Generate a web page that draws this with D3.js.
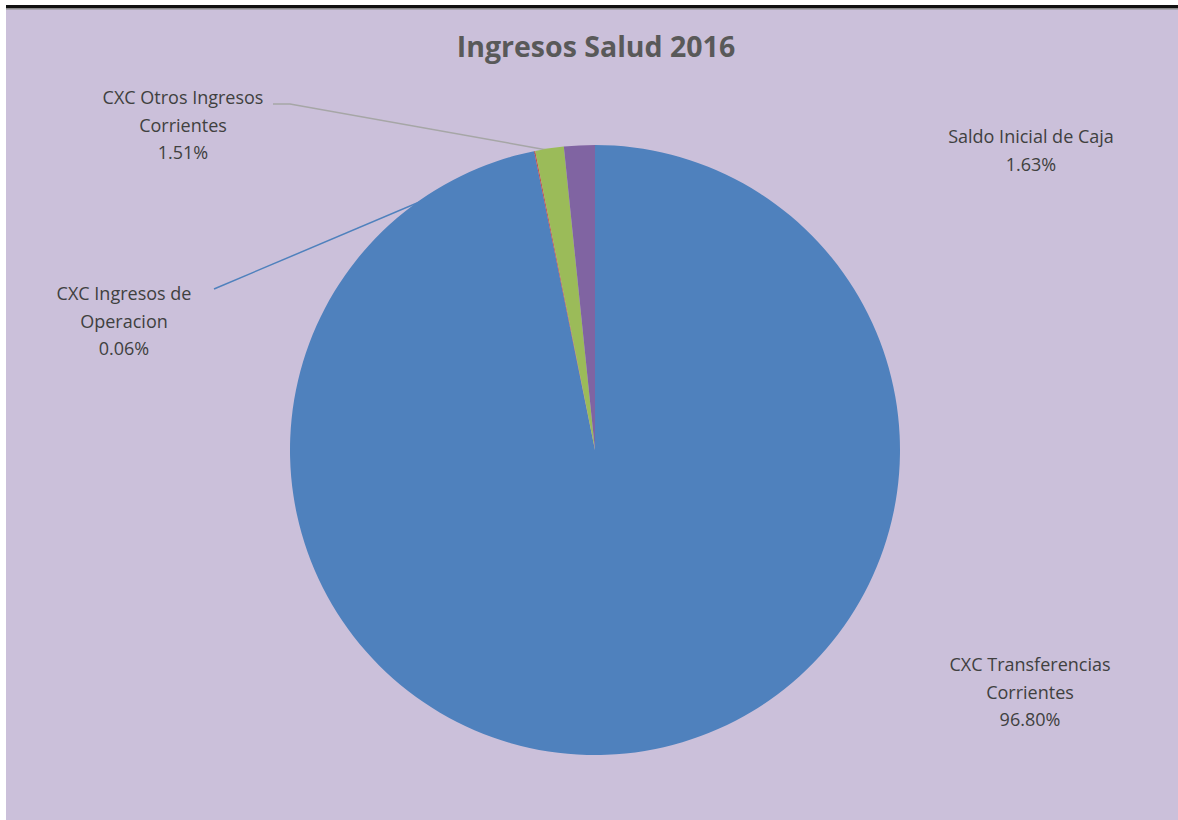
<!DOCTYPE html>
<html><head><meta charset="utf-8">
<script src="https://cdn.jsdelivr.net/npm/d3@7"></script>
<style>body{margin:0;background:#fff}svg{display:block}</style>
</head><body>
<svg id="c" width="1178" height="820"></svg>
<script>
const title = "Ingresos Salud 2016";
const categories = ["CXC Transferencias Corrientes","CXC Ingresos de Operacion","CXC Otros Ingresos Corrientes","Saldo Inicial de Caja"];
const values = [96.80, 0.06, 1.51, 1.63];
const labelLines = [["CXC Transferencias","Corrientes"],["CXC Ingresos de","Operacion"],["CXC Otros Ingresos","Corrientes"],["Saldo Inicial de Caja"]];
const colors = ["#4F81BD","#C0504D","#9BBB59","#8064A2"];

// layout (not data)
const cx = 595, cy = 450, R = 305;
const labelPos = [
  {x:1030, y:671, leader:null},
  {x:124, y:300, leader:[214,289], leaderColor:"#4F81BD"},
  {x:183, y:104, leader:[273,104], hook:[290,104], leaderColor:"#A6A6A6"},
  {x:1031, y:143, leader:null}
];

const svg = d3.select("#c");
svg.append("rect").attr("x",6).attr("y",9).attr("width",1172).attr("height",811).attr("fill","#CBC0DA");
svg.append("rect").attr("x",6).attr("y",5).attr("width",1172).attr("height",3).attr("fill","#111");
svg.append("rect").attr("x",6).attr("y",8).attr("width",1172).attr("height",1.5).attr("fill","#888");

svg.append("text").attr("x",596).attr("y",57).attr("text-anchor","middle")
  .attr("font-family","'Open Sans', sans-serif").attr("font-weight","bold").attr("font-size",28.5)
  .attr("fill","#595959").text(title);

const data = categories.map((c,i)=>({name:c, value:values[i], i}));
const pie = d3.pie().sort(null).value(d=>d.value);
const arcs = pie(data);
const arc = d3.arc().innerRadius(0).outerRadius(R);

// leader lines drawn beneath the pie
const leaderG = svg.append("g");
arcs.forEach(a=>{
  const lp = labelPos[a.data.i];
  if(!lp.leader) return;
  const mid = (a.startAngle+a.endAngle)/2;
  const ex = cx + (R-2)*Math.sin(mid), ey = cy - (R-2)*Math.cos(mid);
  const pts = [lp.leader];
  if(lp.hook) pts.push(lp.hook);
  pts.push([ex,ey]);
  leaderG.append("path").attr("d",d3.line()(pts)).attr("fill","none")
    .attr("stroke",lp.leaderColor).attr("stroke-width",1.5);
});

const g = svg.append("g").attr("transform",`translate(${cx},${cy})`);
g.selectAll("path").data(arcs).join("path")
  .attr("d",arc).attr("fill",d=>colors[d.data.i]).attr("stroke","none");

arcs.forEach(a=>{
  const i=a.data.i, lp=labelPos[i];
  const lines = labelLines[i].concat([d3.format(".2f")(a.data.value)+"%"]);
  const t = svg.append("text").attr("text-anchor","middle")
    .attr("font-family","'Open Sans', sans-serif").attr("font-size",18).attr("fill","#404040");
  lines.forEach((l,k)=>t.append("tspan").attr("x",lp.x).attr("y",lp.y+k*27.5).text(l));
});
</script>
</body></html>
